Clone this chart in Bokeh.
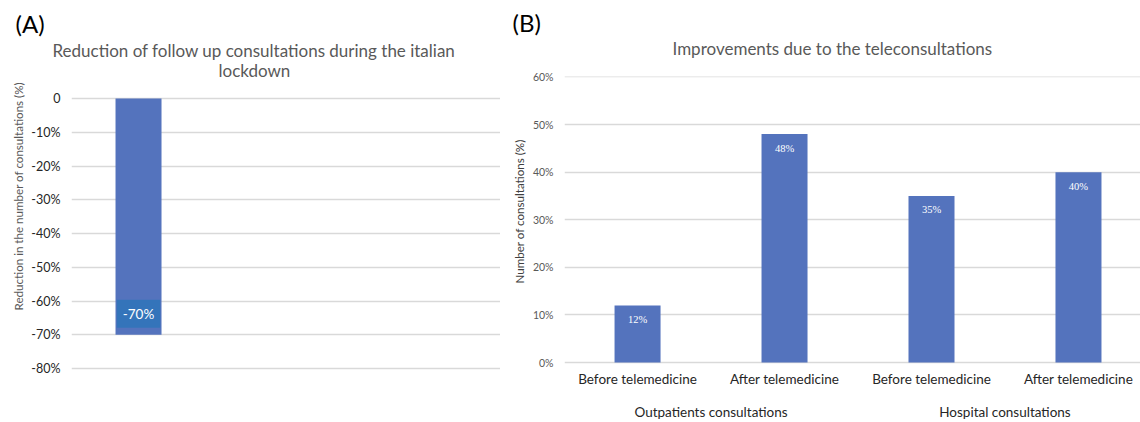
from bokeh.plotting import figure
from bokeh.layouts import row
from bokeh.models import (Range1d, FixedTicker, LinearAxis, Label, LabelSet, Title,
                          ColumnDataSource, CustomJSTickFormatter)
from bokeh.embed import file_html
from bokeh.resources import INLINE

# ---------------- data ----------------
a_title = ["Reduction of follow up consultations during the italian", "lockdown"]
a_ylabel = "Reduction in the number of consultations (%)"
a_categories = ["Follow up consultations"]
a_values = [-70]
a_ticks = [0, -10, -20, -30, -40, -50, -60, -70, -80]

b_title = "Improvements due to the teleconsultations"
b_ylabel = "Number of consultations (%)"
b_subcats = ["Before telemedicine", "After telemedicine", "Before telemedicine", "After telemedicine"]
b_groups = ["Outpatients consultations", "Hospital consultations"]
b_values = [12, 48, 35, 40]
b_ticks = [0, 10, 20, 30, 40, 50, 60]

FONT = "Lato"
BAR = "#5473BD"
GRID = "#d9d9d9"
TITLE_C = "#595959"
TEXT_C = "#262626"


def title(text, size, color, align="left", offset=0, standoff=0, valign="bottom"):
    return Title(text=text, align=align, offset=offset, standoff=standoff,
                 vertical_align=valign, text_font=FONT, text_font_size=size,
                 text_color=color, text_font_style="normal")


def plain_axis(ax):
    ax.axis_line_color = None
    ax.major_tick_line_color = None
    ax.minor_tick_line_color = None
    ax.major_tick_out = 0
    ax.major_tick_in = 0
    ax.minor_tick_out = 0
    ax.minor_tick_in = 0
    ax.major_label_text_font = FONT


# ---------------- panel A ----------------
pa = figure(width=500, height=422, output_backend="svg", toolbar_location=None,
            x_range=Range1d(-1.457, 7.87), y_range=Range1d(-80.59, 6.52),
            min_border_left=71, min_border_right=0, min_border_top=76, min_border_bottom=52)
pa.outline_line_color = None
pa.xaxis.visible = False
pa.xgrid.visible = False
pa.ygrid.grid_line_color = GRID
pa.ygrid.grid_line_width = 1.5
pa.yaxis.ticker = FixedTicker(ticks=a_ticks)
pa.yaxis.formatter = CustomJSTickFormatter(code="return tick == 0 ? '0' : tick.toFixed(0) + '%';")
plain_axis(pa.yaxis)
pa.yaxis.major_label_text_font_size = "12.5px"
pa.yaxis.major_label_text_color = TEXT_C
pa.yaxis.major_label_standoff = 11

a_x = list(range(len(a_categories)))
pa.vbar(x=a_x, top=[0] * len(a_values), bottom=a_values, width=1.0,
        fill_color=BAR, line_color=None)
for xi, v in zip(a_x, a_values):
    pa.add_layout(Label(x=xi, y=v, y_offset=21, text=f"{v}%", text_align="center",
                        text_baseline="middle", text_color="white", text_font=FONT,
                        text_font_size="13.5px", background_fill_color="#3474BA",
                        padding=6))

pa.add_layout(title(a_title[1], "17px", TITLE_C, offset=147, standoff=-9), "above")
pa.add_layout(title(a_title[0], "17px", TITLE_C, offset=-19, standoff=4), "above")
pa.add_layout(title("(A)", "24px", "#000000", offset=-56, standoff=-4), "above")
pa.add_layout(title(a_ylabel, "11.6px", TITLE_C, offset=60, standoff=7), "left")

# ---------------- panel B ----------------
pb = figure(width=640, height=422, output_backend="svg", toolbar_location=None,
            x_range=Range1d(-0.497, 3.422), y_range=Range1d(-1.68, 60.1),
            min_border_left=64, min_border_right=0, min_border_top=76, min_border_bottom=52)
pb.outline_line_color = None
pb.xgrid.visible = False
pb.ygrid.grid_line_color = GRID
pb.ygrid.grid_line_width = 1.5
pb.yaxis.ticker = FixedTicker(ticks=b_ticks)
pb.yaxis.formatter = CustomJSTickFormatter(code="return tick.toFixed(0) + '%';")
plain_axis(pb.yaxis)
pb.yaxis.major_label_text_font_size = "10.5px"
pb.yaxis.major_label_text_color = TITLE_C
pb.yaxis.major_label_standoff = 11

b_x = list(range(len(b_values)))
pb.xaxis.ticker = FixedTicker(ticks=b_x)
pb.xaxis.major_label_overrides = {i: s for i, s in zip(b_x, b_subcats)}
plain_axis(pb.xaxis)
pb.xaxis.major_label_text_font_size = "13.5px"
pb.xaxis.major_label_text_color = TEXT_C
pb.xaxis.major_label_standoff = 0

grp_pos = [0.5, 2.5]
gax = LinearAxis(ticker=FixedTicker(ticks=grp_pos),
                 major_label_overrides={p: g for p, g in zip(grp_pos, b_groups)})
plain_axis(gax)
gax.major_label_text_font_size = "13.5px"
gax.major_label_text_color = TEXT_C
gax.major_label_standoff = 14
pb.add_layout(gax, "below")

pb.vbar(x=b_x, top=b_values, width=0.313, fill_color=BAR, line_color=None)
src = ColumnDataSource(dict(x=b_x, y=b_values, t=[f"{v}%" for v in b_values]))
pb.add_layout(LabelSet(x="x", y="y", text="t", source=src, y_offset=-14,
                       text_align="center", text_baseline="middle", text_color="white",
                       text_font=FONT, text_font_size="10.5px"))

pb.add_layout(title(b_title, "17px", TITLE_C, offset=108, standoff=31, valign="top"), "above")
pb.add_layout(title("(B)", "24px", "#000000", offset=-52, standoff=-29), "above")
pb.add_layout(title(b_ylabel, "11.6px", "#404040", offset=87, standoff=8), "left")

layout = row(pa, pb, spacing=0)
open("out.html", "w").write(file_html(layout, INLINE))
